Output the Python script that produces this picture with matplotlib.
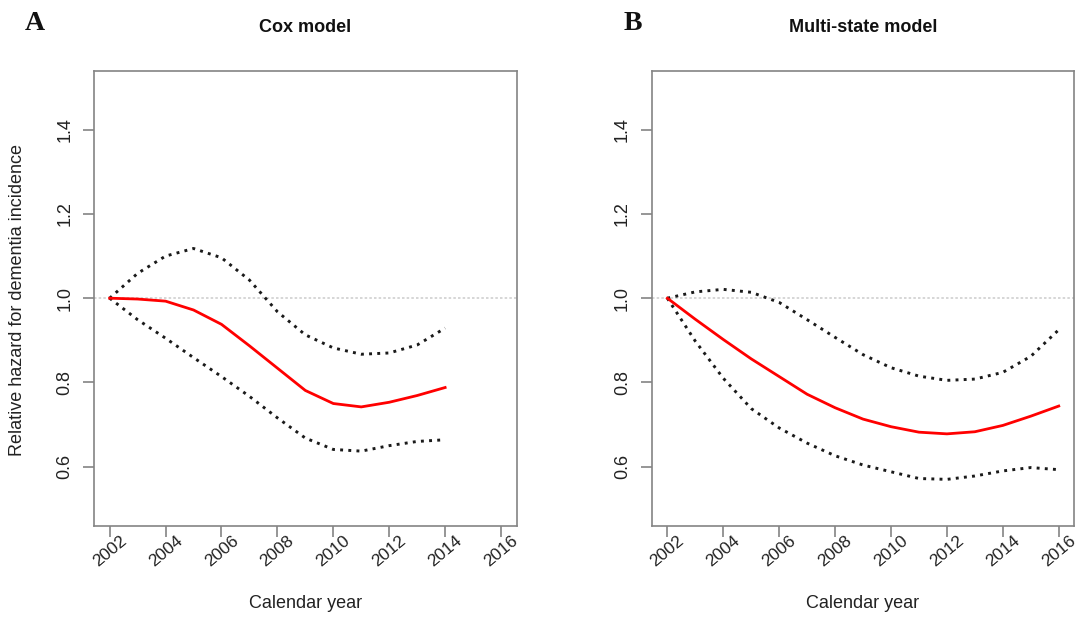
import matplotlib
matplotlib.use("Agg")
import matplotlib.pyplot as plt

plt.rcParams['font.family'] = ['Liberation Sans', 'DejaVu Sans']

# ---- data ----
cox_years = [2002, 2003, 2004, 2005, 2006, 2007, 2008, 2009, 2010, 2011, 2012, 2013, 2014]
cox_est   = [1.000, 0.998, 0.993, 0.972, 0.938, 0.887, 0.834, 0.781, 0.750, 0.742, 0.753, 0.769, 0.788]
cox_upper = [1.000, 1.059, 1.100, 1.118, 1.096, 1.043, 0.968, 0.913, 0.882, 0.867, 0.870, 0.889, 0.929]
cox_lower = [1.000, 0.949, 0.905, 0.859, 0.814, 0.767, 0.716, 0.668, 0.641, 0.637, 0.650, 0.660, 0.664]

ms_years = [2002, 2003, 2004, 2005, 2006, 2007, 2008, 2009, 2010, 2011, 2012, 2013, 2014, 2015, 2016]
ms_est   = [1.000, 0.950, 0.902, 0.856, 0.814, 0.772, 0.740, 0.713, 0.695, 0.682, 0.678, 0.683, 0.698, 0.720, 0.744]
ms_upper = [1.000, 1.015, 1.021, 1.014, 0.990, 0.949, 0.907, 0.866, 0.835, 0.815, 0.805, 0.808, 0.824, 0.862, 0.925]
ms_lower = [1.000, 0.898, 0.810, 0.738, 0.692, 0.656, 0.626, 0.604, 0.588, 0.572, 0.570, 0.578, 0.590, 0.598, 0.593]

x_ticks = [2002, 2004, 2006, 2008, 2010, 2012, 2014, 2016]
y_ticks = [0.6, 0.8, 1.0, 1.2, 1.4]
titles = ["Cox model", "Multi-state model"]
panel_letters = ["A", "B"]
x_label = "Calendar year"
y_label = "Relative hazard for dementia incidence"

W, H = 1079, 619
fig = plt.figure(figsize=(W / 100, H / 100), dpi=100)

ax_w = 422.7 / W
ax_h = 455 / H
ax_b = 1 - 525.7 / H
lefts = [94 / W, 651.7 / W]

spine_col = '#848484'
panels = [
    (cox_years, cox_est, cox_upper, cox_lower),
    (ms_years, ms_est, ms_upper, ms_lower),
]

for i, (yrs, est, up, lo) in enumerate(panels):
    ax = fig.add_axes([lefts[i], ax_b, ax_w, ax_h])
    ax.set_xlim(2001.44, 2016.56)
    ax.set_ylim(0.46, 1.54)
    ax.axhline(1.0, color='#cfcfcf', lw=1.2, ls=(0, (1.5, 1.3)), zorder=1)
    ax.plot(yrs, up, color='#1a1a1a', lw=2.1, ls=(0, (1, 1.8)), zorder=2)
    ax.plot(yrs, lo, color='#1a1a1a', lw=2.1, ls=(0, (1, 1.8)), zorder=2)
    ax.plot(yrs, est, color='#ff0000', lw=2.0, zorder=3)

    for s in ax.spines.values():
        s.set_color(spine_col)
        s.set_linewidth(1.2)
    ax.set_xticks(x_ticks)
    ax.set_xticklabels([str(t) for t in x_ticks], rotation=40, ha='center',
                       fontsize=12.5, color='#222222')
    ax.set_yticks(y_ticks)
    ax.set_yticklabels([f"{t:.1f}" for t in y_ticks], rotation=90, va='center',
                       fontsize=13, color='#222222')
    ax.tick_params(axis='x', length=8, width=1.2, color=spine_col, pad=-3)
    ax.tick_params(axis='y', length=8, width=1.2, color=spine_col, pad=7)

    cx = (lefts[i] + ax_w / 2)
    fig.text(cx, 1 - 27 / H, titles[i], ha='center', va='center',
             fontsize=13, fontweight='bold', color='#111111')
    fig.text(cx, 1 - 603 / H, x_label, ha='center', va='center',
             fontsize=13, color='#222222')

fig.text(35 / W, 1 - 23 / H, panel_letters[0], ha='center', va='center',
         fontsize=20, fontweight='bold', family='Liberation Serif', color='#111111')
fig.text(633 / W, 1 - 23 / H, panel_letters[1], ha='center', va='center',
         fontsize=20, fontweight='bold', family='Liberation Serif', color='#111111')
fig.text(18 / W, 1 - 300 / H, y_label, ha='center', va='center', rotation=90,
         fontsize=13, color='#222222')

fig.savefig("out.png", dpi=100, facecolor='white')
